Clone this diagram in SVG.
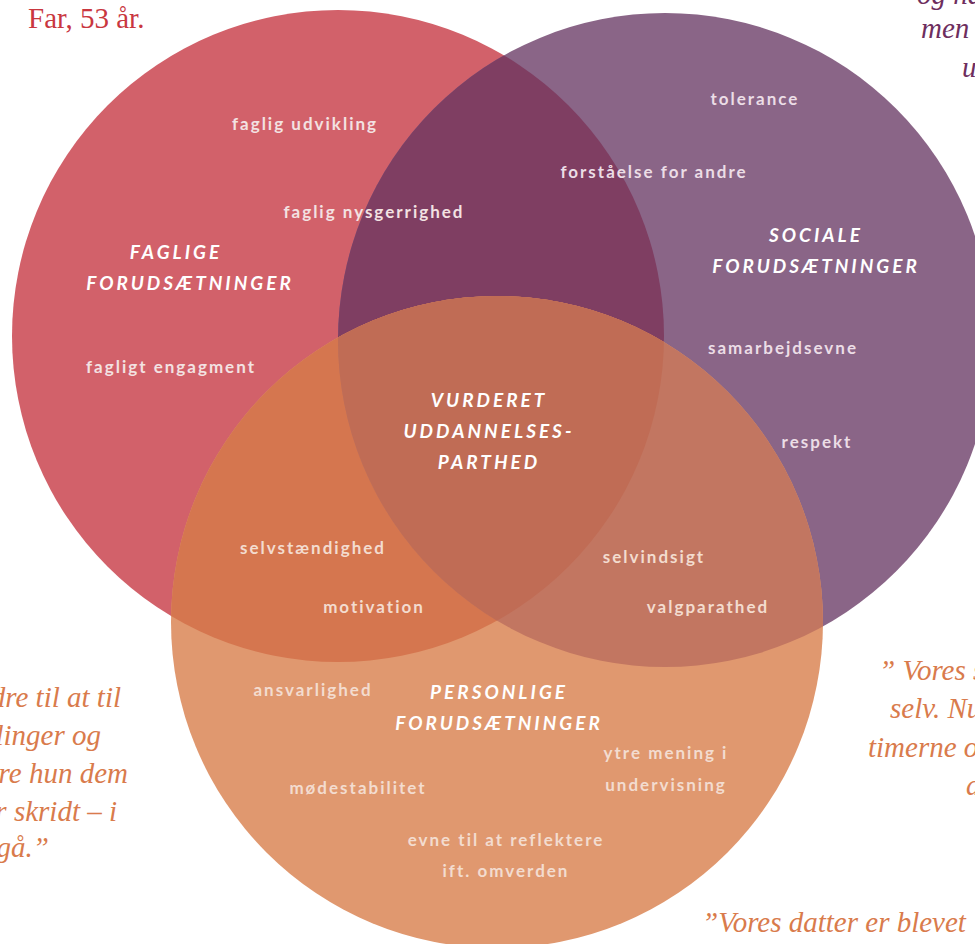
<svg xmlns="http://www.w3.org/2000/svg" width="975" height="944" viewBox="0 0 975 944">
<style>
.lbl{font-family:Lato,"Open Sans",sans-serif;font-weight:700;font-size:17px;letter-spacing:2px;text-anchor:middle}
.hd{font-family:Lato,"Open Sans",sans-serif;font-weight:700;font-style:italic;font-size:19px;letter-spacing:3px;text-anchor:middle;fill:#ffffff}
.lr{fill:#f3e2e2}.lp{fill:#ecdde6}.lo{fill:#f3dccf}
.q{font-family:"Liberation Serif",serif;font-style:italic;font-size:29px}
.qo{fill:#d97b4c}.qp{fill:#6e2e5e}
</style>
<defs>
<clipPath id="cA"><circle cx="338" cy="336" r="326"/></clipPath>
<clipPath id="cB"><circle cx="665" cy="340" r="327"/></clipPath>
</defs>
<rect width="975" height="944" fill="#ffffff"/>
<g id="circles">
<g id="faglige"><circle cx="338" cy="336" r="326" fill="#d2616a"/></g>
<g id="sociale"><circle cx="665" cy="340" r="327" fill="#8a6587"/></g>
<g id="faglige-sociale"><circle cx="665" cy="340" r="327" fill="#7f3e62" clip-path="url(#cA)"/></g>
<g id="personlige"><circle cx="497" cy="622" r="326" fill="#e0986f"/></g>
<g id="faglige-personlige"><circle cx="497" cy="622" r="326" fill="#d5764f" clip-path="url(#cA)"/></g>
<g id="sociale-personlige"><circle cx="497" cy="622" r="326" fill="#c27661" clip-path="url(#cB)"/></g>
<g id="center" clip-path="url(#cB)"><circle cx="497" cy="622" r="326" fill="#c06c55" clip-path="url(#cA)"/></g>
</g>
<g id="connectors"></g>
<g id="labels">
<text class="lbl lr" x="305" y="130">faglig udvikling</text>
<text class="lbl lr" x="374" y="218">faglig nysgerrighed</text>
<text class="hd" x="176" y="259">FAGLIGE</text>
<text class="hd" x="190" y="290">FORUDSÆTNINGER</text>
<text class="lbl lr" x="171" y="373">fagligt engagment</text>
<text class="lbl lp" x="755" y="105">tolerance</text>
<text class="lbl lp" x="654" y="178">forståelse for andre</text>
<text class="hd" x="816" y="242">SOCIALE</text>
<text class="hd" x="816" y="273">FORUDSÆTNINGER</text>
<text class="lbl lp" x="783" y="354">samarbejdsevne</text>
<text class="lbl lp" x="817" y="448">respekt</text>
<text class="hd" x="489" y="407">VURDERET</text>
<text class="hd" x="489" y="438">UDDANNELSES-</text>
<text class="hd" x="489" y="469">PARTHED</text>
<text class="lbl lo" x="313" y="554">selvstændighed</text>
<text class="lbl lo" x="374" y="613">motivation</text>
<text class="lbl lo" x="654" y="563">selvindsigt</text>
<text class="lbl lo" x="708" y="613">valgparathed</text>
<text class="lbl lo" x="313" y="696">ansvarlighed</text>
<text class="hd" x="499" y="699">PERSONLIGE</text>
<text class="hd" x="499" y="730">FORUDSÆTNINGER</text>
<text class="lbl lo" x="666" y="759">ytre mening i</text>
<text class="lbl lo" x="666" y="791">undervisning</text>
<text class="lbl lo" x="358" y="794">mødestabilitet</text>
<text class="lbl lo" x="506" y="846">evne til at reflektere</text>
<text class="lbl lo" x="506" y="877">ift. omverden</text>
</g>
<g id="quotes">
<text x="28" y="28" font-family="Liberation Serif,serif" font-size="29" fill="#c9373f">Far, 53 år.</text>
<text class="q qp" x="917" y="4">og ha</text>
<text class="q qp" x="921" y="38">men</text>
<text class="q qp" x="962" y="77">u</text>
<text class="q qo" x="121" y="707" text-anchor="end">dre til at til</text>
<text class="q qo" x="101" y="745" text-anchor="end">linger og</text>
<text class="q qo" x="128" y="783" text-anchor="end">re hun dem</text>
<text class="q qo" x="117" y="821" text-anchor="end">r skridt – i</text>
<text class="q qo" x="49" y="857" text-anchor="end">gå.”</text>
<text class="q qo" x="879" y="680">” Vores s</text>
<text class="q qo" x="890" y="718">selv. Nu</text>
<text class="q qo" x="868" y="757">timerne o</text>
<text class="q qo" x="966" y="795">d</text>
<text class="q qo" x="702" y="932">”Vores datter er blevet</text>
</g>
</svg>
